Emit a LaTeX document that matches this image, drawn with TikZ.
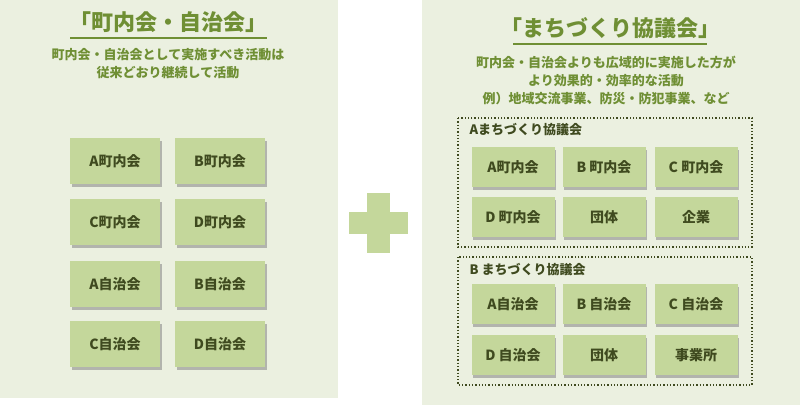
\documentclass[tikz,border=0pt]{standalone}
\usepackage{fontspec}
\setmainfont{Noto Sans CJK JP}
\usetikzlibrary{shadows}
\definecolor{panel}{HTML}{EBF0E0}
\definecolor{boxc}{HTML}{C4D79B}
\definecolor{txt}{HTML}{3F4A1F}
\definecolor{ttl}{HTML}{6F8F34}
\tikzset{
  x=1pt,y=-1pt,
  gbox/.style={fill=boxc,draw=none,minimum width=#1,minimum height=46pt,inner sep=0pt,
    font=\bfseries\fontsize{14}{16}\selectfont,text=txt,
    drop shadow={shadow xshift=1.5pt,shadow yshift=-2.5pt,fill=black!45,opacity=0.6}},
  gbox/.default=90pt,
  sbox/.style={gbox=83pt,minimum height=40pt},
  grp/.style={draw=txt,dotted,line width=1.3pt},
  ttlnode/.style={font=\bfseries\fontsize{22}{26}\selectfont,text=ttl},
  sub/.style={font=\bfseries\fontsize{13}{18}\selectfont,text=ttl,align=center},
}
\begin{document}
\begin{tikzpicture}
\useasboundingbox (0,0) rectangle (800,405);
\fill[white] (0,0) rectangle (800,405);
\fill[panel] (0,0) rectangle (338,398);
\fill[panel] (422,0) rectangle (800,405);
% plus
\fill[boxc] (349,212) rectangle (408,234);
\fill[boxc] (367,193) rectangle (390,253);
% left
\node[ttlnode] (lt) at (168,22) {「町内会・自治会」};
\draw[ttl,line width=1.2pt] (70,38) -- (267,38);
\node[sub] (ls) at (168,64) {町内会・自治会として実施すべき活動は\\従来どおり継続して活動};
\node[gbox] (l1) at (115,161) {A町内会};
\node[gbox] (l2) at (220,161) {B町内会};
\node[gbox] (l3) at (115,222) {C町内会};
\node[gbox] (l4) at (220,222) {D町内会};
\node[gbox] (l5) at (115,284) {A自治会};
\node[gbox] (l6) at (220,284) {B自治会};
\node[gbox] (l7) at (115,344) {C自治会};
\node[gbox] (l8) at (220,344) {D自治会};
% right
\node[ttlnode] (rt) at (610,28) {「まちづくり協議会」};
\draw[ttl,line width=1.2pt] (513,44) -- (707,44);
\node[sub] (rs) at (606,80) {町内会・自治会よりも広域的に実施した方が\\より効果的・効率的な活動\\例）地域交流事業、防災・防犯事業、など};
\draw[grp] (458,118) rectangle (752,247);
\node[anchor=west,font=\bfseries\fontsize{13}{15}\selectfont,text=txt] (ga) at (466,130) {Aまちづくり協議会};
\node[sbox] (a1) at (513,167) {A町内会};
\node[sbox] (a2) at (604,167) {B 町内会};
\node[sbox] (a3) at (696,167) {C 町内会};
\node[sbox] (a4) at (513,217) {D 町内会};
\node[sbox] (a5) at (604,217) {団体};
\node[sbox] (a6) at (696,217) {企業};
\draw[grp] (458,257) rectangle (752,385);
\node[anchor=west,font=\bfseries\fontsize{13}{15}\selectfont,text=txt] (gb) at (466,270) {B まちづくり協議会};
\node[sbox] (b1) at (513,304) {A自治会};
\node[sbox] (b2) at (604,304) {B 自治会};
\node[sbox] (b3) at (696,304) {C 自治会};
\node[sbox] (b4) at (513,355) {D 自治会};
\node[sbox] (b5) at (604,355) {団体};
\node[sbox] (b6) at (696,355) {事業所};
\end{tikzpicture}
\end{document}
